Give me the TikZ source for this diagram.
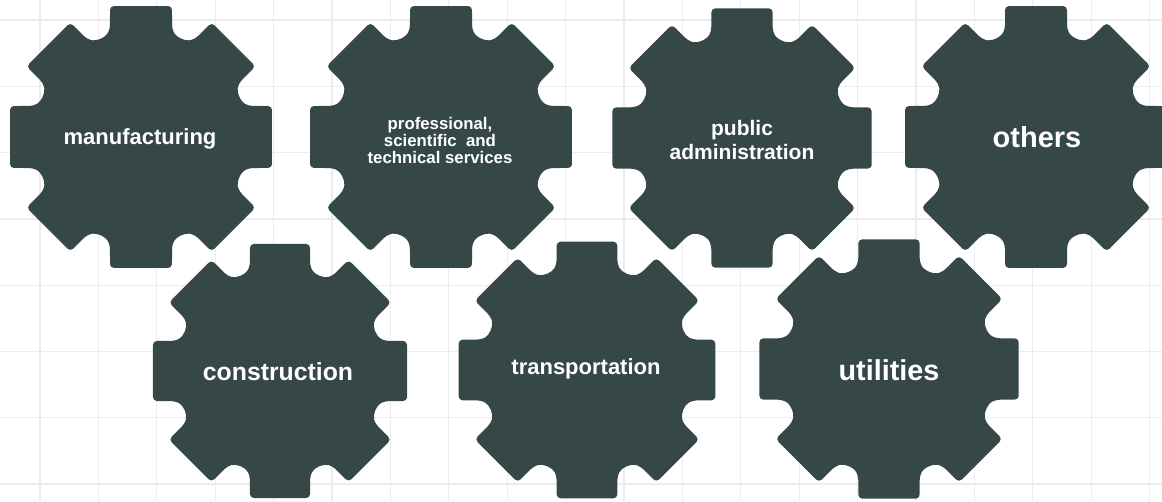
\documentclass[tikz,border=0pt]{standalone}
\usepackage{fontspec}
\setmainfont{Liberation Sans}
\usepackage{tikz}
\definecolor{cogfill}{RGB}{53,72,71}
\definecolor{gridline}{RGB}{236,236,236}
\newcommand{\cogpath}{(-13.31:134.6)
  \foreach \a in {0,45,...,315} {
    -- (\a+13.31:134.6) -- (\a+16.02:112.4)
    to[bend left=40] (\a+28.98:112.4) -- (\a+31.69:134.6)
  } -- cycle}

\begin{document}
\begin{tikzpicture}[x=1pt,y=1pt,
  cog/.style={fill=cogfill, rounded corners=4pt},
  cogtext/.style={text=white, font=\bfseries, align=center}]
 \useasboundingbox (0,0) rectangle (1162,501);
 % background grid
 \foreach \x in {0,...,19}
   \draw[gridline, line width=1.3pt] (40+58.4*\x,0) -- (40+58.4*\x,501);
 \foreach \y in {0,...,7}
   \draw[gridline, line width=1.3pt] (0,481-66.3*\y) -- (1162,481-66.3*\y);
 % top row
 \fill[cog, shift={(141,364)}] \cogpath;
 \fill[cog, shift={(441,364)}] \cogpath;
 \fill[cog, shift={(742,363)}, scale=0.99] \cogpath;
 \fill[cog, shift={(1036,364)}] \cogpath;
 % bottom row
 \fill[cog, shift={(280,130)}, scale=0.97] \cogpath;
 \fill[cog, shift={(587,131)}, scale=0.98] \cogpath;
 \fill[cog, shift={(889,132)}, scale=0.99] \cogpath;
 \node[cogtext, font=\bfseries\fontsize{22}{24}\selectfont] (manufacturing) at (140,362) {manufacturing};
 \node[cogtext, font=\bfseries\fontsize{16.8}{17}\selectfont] (professional) at (440,361) {professional,\\ scientific\ \ and\\ technical services};
 \node[cogtext, font=\bfseries\fontsize{21}{24}\selectfont] (publicadmin) at (742,361) {public\\ administration};
 \node[cogtext, font=\bfseries\fontsize{29}{30}\selectfont] (others) at (1037,364) {others};
 \node[cogtext, font=\bfseries\fontsize{24.8}{26}\selectfont] (construction) at (278,129) {construction};
 \node[cogtext, font=\bfseries\fontsize{22}{24}\selectfont] (transportation) at (586,132) {transportation};
 \node[cogtext, font=\bfseries\fontsize{28.8}{30}\selectfont] (utilities) at (889,131) {utilities};
\end{tikzpicture}
\end{document}
